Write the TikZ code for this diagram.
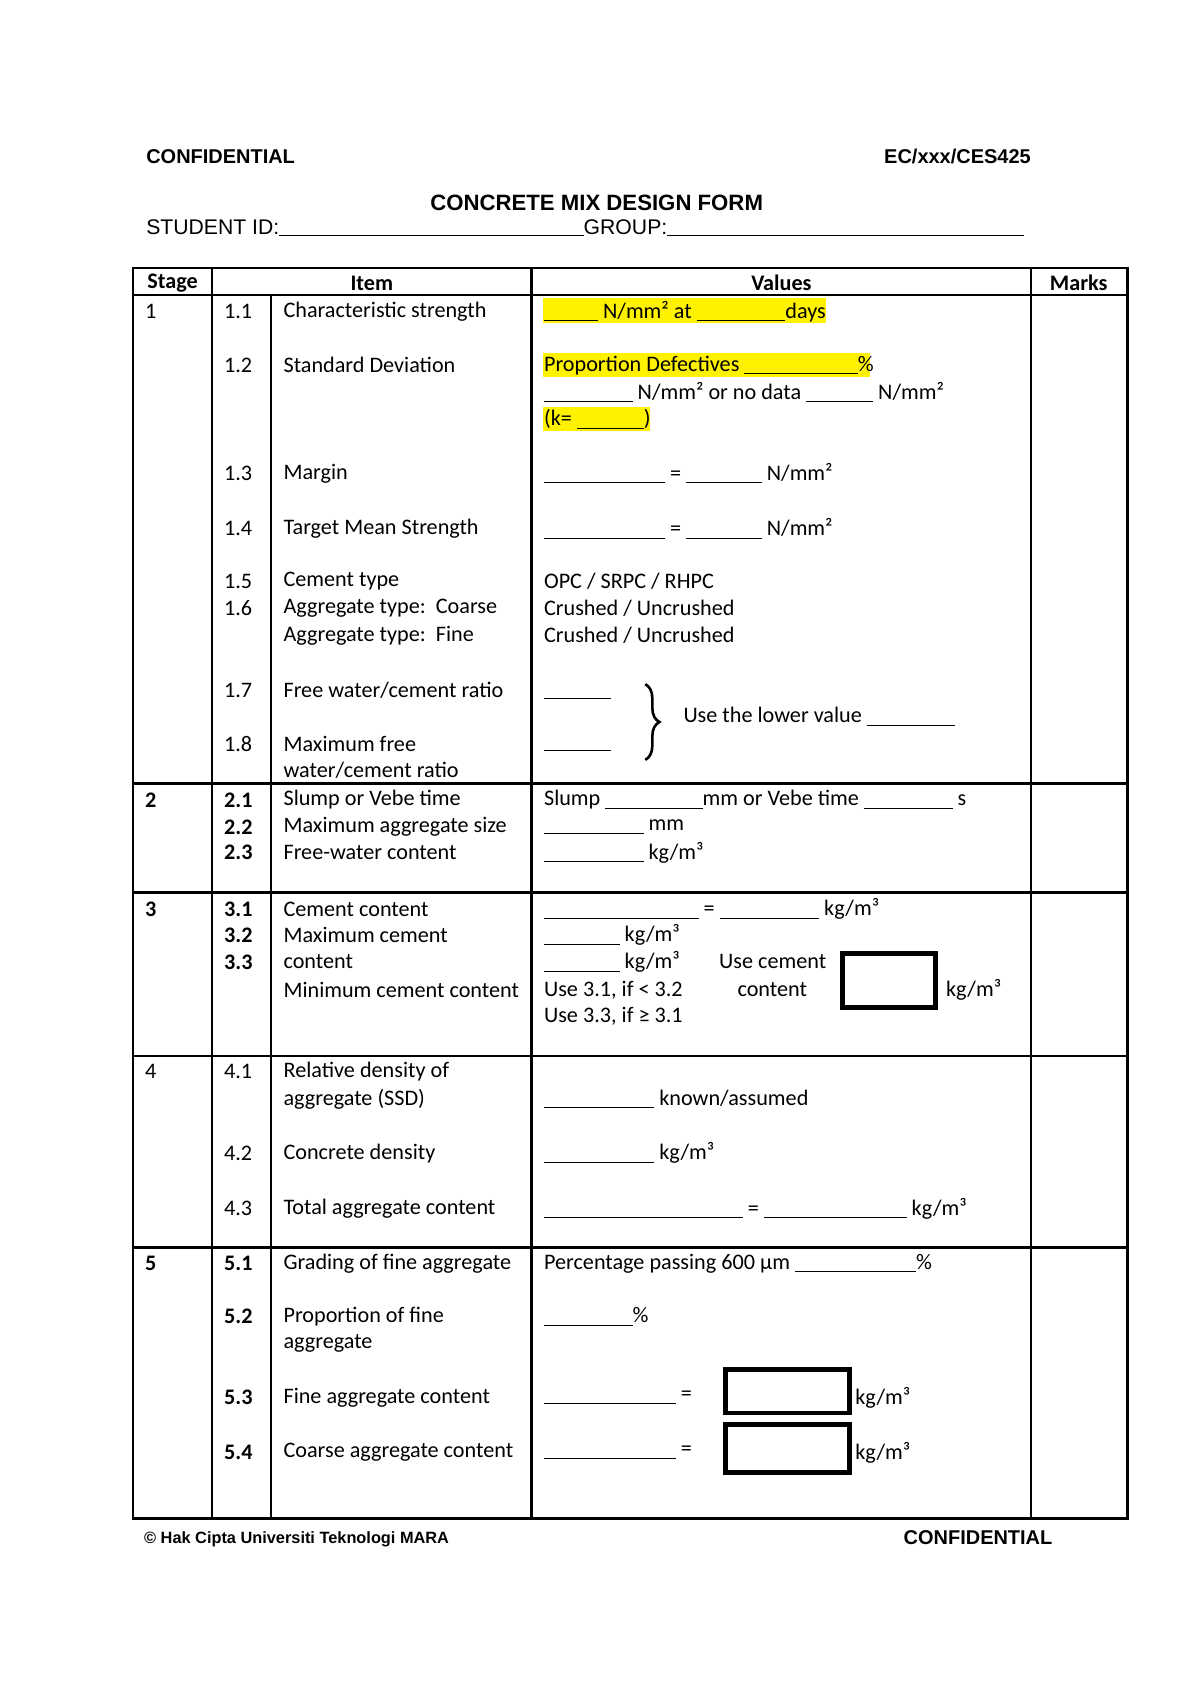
\documentclass[tikz,border=0pt]{standalone}
\usepackage{fontspec}
\setmainfont{Carlito}
\newfontfamily\arial{Liberation Sans}
\usetikzlibrary{decorations.pathreplacing}
\newcommand{\bl}[1]{\rule[-1.5pt]{\dimexpr #1pt*536/1000\relax}{0.5pt}}
\tikzset{x=0.536pt,y=-0.536pt,
 t/.style={anchor=west,inner sep=0pt,font=\fontsize{11}{13}\selectfont},
 tb/.style={t,font=\fontsize{11}{13}\selectfont\bfseries},
 grid/.style={line width=1.3pt},
 hl/.style={fill=yellow,draw=none},
 ansbox/.style={draw,line width=2.4pt}}
\begin{document}
\begin{tikzpicture}
\useasboundingbox (0,0) rectangle (1110,1571);
% header
\node[anchor=west,inner sep=0pt,font=\arial\bfseries\fontsize{9.9}{12}\selectfont] (c1) at (135,145) {CONFIDENTIAL};
\node[anchor=east,inner sep=0pt,font=\arial\bfseries\fontsize{9.9}{12}\selectfont] (ec) at (954,145) {EC/xxx/CES425};
\node[inner sep=0pt,font=\arial\bfseries\fontsize{11}{14}\selectfont] (title) at (552,188) {CONCRETE MIX DESIGN FORM};
\node[anchor=west,inner sep=0pt,font=\arial\fontsize{10.5}{13}\selectfont] (sid) at (135,211) {STUDENT ID:\rule[-1pt]{151pt}{0.5pt}GROUP:\rule[-1pt]{177pt}{0.5pt}};
% highlights
\fill[hl] (502,276) rectangle (764,299);
\fill[hl] (502,327) rectangle (805,349);
\fill[hl] (502,377) rectangle (601,399);
% table grid
\draw[grid] (123,248) rectangle (1043,1405);
\draw[grid] (123,273) -- (1043,273);
\foreach \yy in {725,826,977,1154} \draw[grid] (123,\yy) -- (1043,\yy);
\draw[grid] (196,248) -- (196,1405);
\draw[grid] (492,248) -- (492,1405);
\draw[grid] (954,248) -- (954,1405);
\draw[line width=0.8pt] (251,273) -- (251,1405);
% header row
\node[tb] (hs) at (136,262) {Stage};
\node[inner sep=0pt,font=\fontsize{11}{13}\selectfont\bfseries] (hi) at (344,262) {Item};
\node[inner sep=0pt,font=\fontsize{11}{13}\selectfont\bfseries] (hv) at (723,262) {Values};
\node[inner sep=0pt,font=\fontsize{11}{13}\selectfont\bfseries] (hm) at (998,262) {Marks};
% stage 1
\node[t] (s1) at (134,288) {1};
\node[t] at (207,288) {1.1}; \node[t] at (262,288) {Characteristic strength};
\node[t] at (503,288) {\bl{50} N/mm² at \bl{82}days};
\node[t] at (207,338) {1.2}; \node[t] at (262,338) {Standard Deviation};
\node[t] at (503,338) {Proportion Defectives \bl{105}\%};
\node[t] at (503,363) {\bl{82} N/mm² or no data \bl{62} N/mm²};
\node[t] at (503,388) {(k= \bl{62})};
\node[t] at (207,438) {1.3}; \node[t] at (262,438) {Margin};
\node[t] at (503,438) {\bl{112} = \bl{70} N/mm²};
\node[t] at (207,489) {1.4}; \node[t] at (262,489) {Target Mean Strength};
\node[t] at (503,489) {\bl{112} = \bl{70} N/mm²};
\node[t] at (207,538) {1.5}; \node[t] at (262,538) {Cement type};
\node[t] at (503,538) {OPC / SRPC / RHPC};
\node[t] at (207,563) {1.6}; \node[t] at (262,563) {Aggregate type:\ \ Coarse};
\node[t] at (503,563) {Crushed / Uncrushed};
\node[t] at (262,588) {Aggregate type:\ \ Fine};
\node[t] at (503,588) {Crushed / Uncrushed};
\node[t] at (207,639) {1.7}; \node[t] at (262,639) {Free water/cement ratio};
\node[t] (w1) at (503,645) {\bl{62}};
\node[t] at (207,688) {1.8}; \node[t] at (262,688) {Maximum free};
\node[t] at (262,713) {water/cement ratio};
\node[t] (w2) at (503,693) {\bl{62}};
\coordinate (bt) at (597,633); \coordinate (bb) at (597,703);
\draw[line width=1.3pt,decorate,decoration={brace,amplitude=7pt}] (bt) -- (bb);
\node[t] (lower) at (632,663) {Use the lower value \bl{82}};
% stage 2
\node[tb] at (134,740) {2};
\node[tb] at (207,740) {2.1}; \node[t] at (262,740) {Slump or Vebe time};
\node[t] at (503,740) {Slump \bl{90}mm or Vebe time \bl{82} s};
\node[tb] at (207,765) {2.2}; \node[t] at (262,765) {Maximum aggregate size};
\node[t] at (503,765) {\bl{92} mm};
\node[tb] at (207,789) {2.3}; \node[t] at (262,789) {Free-water content};
\node[t] at (503,789) {\bl{92} kg/m³};
% stage 3
\node[tb] at (134,841) {3};
\node[tb] at (207,841) {3.1}; \node[t] at (262,841) {Cement content};
\node[t] at (503,841) {\bl{143} = \bl{92} kg/m³};
\node[tb] at (207,865) {3.2}; \node[t] at (262,865) {Maximum cement};
\node[t] at (503,865) {\bl{70} kg/m³};
\node[tb] at (207,890) {3.3}; \node[t] at (262,890) {content};
\node[t] at (503,890) {\bl{70} kg/m³};
\node[t] at (262,916) {Minimum cement content};
\node[t] at (503,916) {Use 3.1, if < 3.2};
\node[t] at (503,940) {Use 3.3, if ≥ 3.1};
\node[t] at (665,890) {Use cement};
\node[t] at (682,916) {content};
\node[ansbox,anchor=north west,minimum width=86*0.536pt,minimum height=50*0.536pt,inner sep=0pt] (b3) at (777,880) {};
\node[t] at (875,916) {kg/m³};
% stage 4
\node[t] at (134,991) {4};
\node[t] at (207,991) {4.1}; \node[t] at (262,991) {Relative density of};
\node[t] at (262,1017) {aggregate (SSD)};
\node[t] at (503,1017) {\bl{102} known/assumed};
\node[t] at (207,1067) {4.2}; \node[t] at (262,1067) {Concrete density};
\node[t] at (503,1067) {\bl{102} kg/m³};
\node[t] at (207,1118) {4.3}; \node[t] at (262,1118) {Total aggregate content};
\node[t] at (503,1118) {\bl{184} = \bl{132} kg/m³};
% stage 5
\node[tb] at (134,1169) {5};
\node[tb] at (207,1169) {5.1}; \node[t] at (262,1169) {Grading of fine aggregate};
\node[t] at (503,1169) {Percentage passing 600 µm \bl{112}\%};
\node[tb] at (207,1218) {5.2}; \node[t] at (262,1218) {Proportion of fine};
\node[t] at (262,1243) {aggregate};
\node[t] at (503,1218) {\bl{82}\%};
\node[tb] at (207,1293) {5.3}; \node[t] at (262,1293) {Fine aggregate content};
\node[t] at (503,1293) {\bl{122} =};
\node[ansbox,anchor=north west,minimum width=115*0.536pt,minimum height=40*0.536pt,inner sep=0pt] (b53) at (669,1265) {};
\node[t] at (791,1293) {kg/m³};
\node[tb] at (207,1344) {5.4}; \node[t] at (262,1344) {Coarse aggregate content};
\node[t] at (503,1344) {\bl{122} =};
\node[ansbox,anchor=north west,minimum width=115*0.536pt,minimum height=44*0.536pt,inner sep=0pt] (b54) at (669,1316) {};
\node[t] at (791,1344) {kg/m³};
% footer
\node[anchor=west,inner sep=0pt,font=\arial\bfseries\fontsize{8.1}{10}\selectfont] (copy) at (133,1424) {© Hak Cipta Universiti Teknologi MARA};
\node[anchor=east,inner sep=0pt,font=\arial\bfseries\fontsize{9.9}{12}\selectfont] (c2) at (974,1423) {CONFIDENTIAL};
\end{tikzpicture}
\end{document}
